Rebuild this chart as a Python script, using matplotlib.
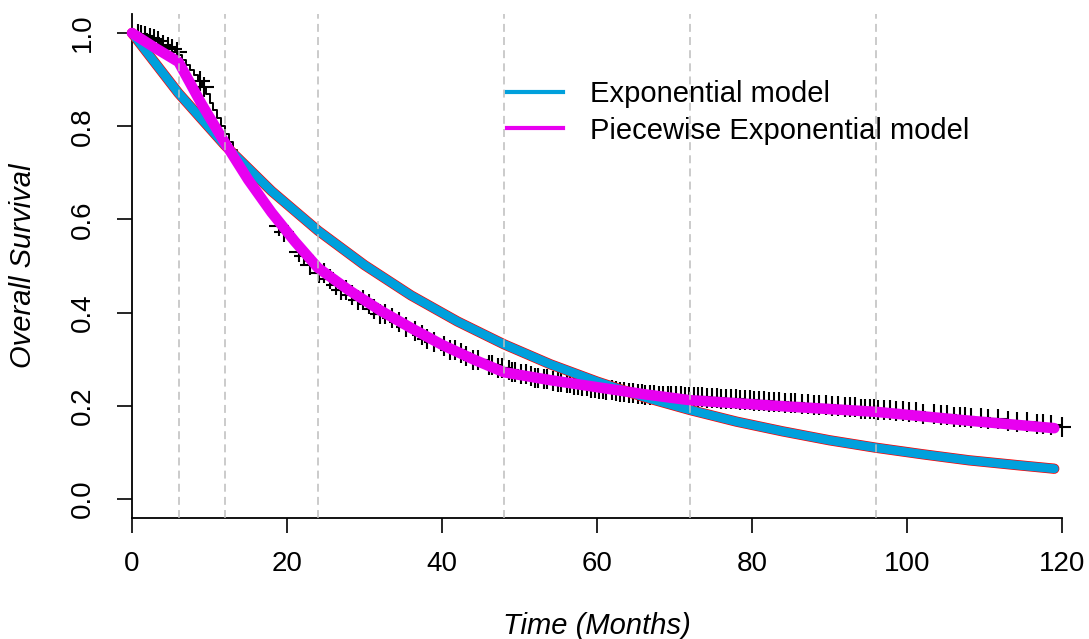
import numpy as np
import matplotlib
matplotlib.use("Agg")
import matplotlib.pyplot as plt
from matplotlib.lines import Line2D

plt.rcParams['font.family'] = ['Liberation Sans', 'DejaVu Sans']

# ---------------------------------------------------------------- data
# Kaplan-Meier step curve
km_time = [0, 0.5, 1, 1.5, 2, 2.5, 3, 3.5, 4, 4.5, 5, 5.5, 6, 6.5, 7, 7.5, 8, 8.5, 9, 9.5,
           10, 10.5, 11, 11.5, 12, 12.5, 13, 13.5, 14, 14.5, 15, 15.5, 16, 16.5, 17, 17.5,
           18, 18.5, 19, 19.5, 20, 20.5, 21, 21.5, 22, 22.5, 23, 23.5, 24,
           25, 26, 27, 28, 29, 30, 31, 32, 33, 34, 35, 36, 37, 38, 39, 40, 41, 42, 43, 44,
           45, 46, 47, 48, 49, 50, 51, 52, 53, 54, 55, 56, 57, 58, 59, 60, 61, 62, 63, 64,
           65, 66, 67, 68, 69, 70, 71, 72, 74, 76, 78, 80, 82, 84, 86, 88, 90, 92, 94, 96,
           98, 100, 102, 104, 106, 108, 110, 112, 114, 116, 118, 119, 120]
km_surv = [1.000, 0.998, 0.996, 0.993, 0.990, 0.987, 0.983, 0.979, 0.975, 0.970, 0.965,
           0.960, 0.952, 0.942, 0.932, 0.921, 0.910, 0.898, 0.884, 0.870, 0.850, 0.834,
           0.817, 0.800, 0.783, 0.766, 0.750, 0.735, 0.720, 0.705, 0.690, 0.676, 0.662,
           0.648, 0.635, 0.622, 0.609, 0.597, 0.586, 0.574, 0.563, 0.552, 0.541, 0.531,
           0.521, 0.511, 0.502, 0.493, 0.485,
           0.472, 0.460, 0.449, 0.438, 0.428, 0.418, 0.407, 0.397, 0.388, 0.379, 0.370,
           0.361, 0.352, 0.344, 0.336, 0.328, 0.320, 0.313, 0.306, 0.299, 0.293, 0.287,
           0.281, 0.276, 0.272, 0.268, 0.264, 0.260, 0.257, 0.254, 0.251, 0.248, 0.245,
           0.242, 0.239, 0.236, 0.233, 0.231, 0.229, 0.227, 0.225, 0.224, 0.223, 0.222,
           0.221, 0.220, 0.219, 0.218, 0.216, 0.214, 0.212, 0.210, 0.208, 0.206, 0.204,
           0.202, 0.199, 0.197, 0.194, 0.192, 0.189, 0.186, 0.183, 0.180, 0.177, 0.174,
           0.171, 0.168, 0.165, 0.161, 0.158, 0.155, 0.155]

# censoring times (+ marks)
cens_time = [0.8, 1.2, 1.7, 2.3, 2.9, 3.4, 4.0, 4.6, 5.2, 5.8, 8.8, 9.3,
             19.0, 19.6, 21.5, 22.2, 23.0, 24.1, 24.8, 25.5, 26.3, 27.0, 27.6, 28.4, 29.1,
             29.8, 30.6, 31.2, 32.0, 32.7, 33.5, 34.4, 35.3, 36.5, 37.4, 38.1, 39.0, 40.2,
             41.0, 41.7, 42.5, 43.1, 44.0, 44.6, 46.0, 46.5, 47.2, 47.8, 48.6, 49.0, 49.4,
             50.2, 50.9, 51.5, 52.0, 52.4, 53.1, 53.6, 54.3, 55.0, 55.4, 56.1, 56.5, 57.0,
             57.6, 58.1, 58.7, 59.2, 59.7, 60.3, 60.8, 61.2, 61.9, 62.4, 63.0, 63.5, 64.1,
             64.6, 65.3, 65.8, 66.2, 66.9, 67.4, 68.0, 68.5, 69.1, 69.6, 70.2, 70.8, 71.3,
             71.9, 72.5, 73.0, 73.6, 74.2, 74.8, 75.5, 76.0, 76.6, 77.3, 77.9, 78.4, 79.1,
             79.7, 80.3, 80.9, 81.6, 82.2, 82.9, 83.5, 84.3, 85.0, 85.6, 86.4, 87.2, 88.0,
             88.6, 89.5, 90.3, 91.1, 92.0, 92.6, 93.3, 94.0, 94.6, 95.2, 95.8, 96.3, 97.0,
             97.8, 98.6, 99.5, 100.3, 101.2, 102.0, 103.5, 104.4, 105.2, 106.0, 106.8,
             107.5, 108.3, 109.6, 110.5, 111.8, 113.0, 114.2, 115.5, 116.8, 117.6, 118.6,
             120.0]

# exponential model
exp_time = [0, 6, 12, 18, 24, 30, 36, 42, 48, 54, 60, 66, 72, 78, 84, 90, 96, 102, 108, 114, 119]
exp_surv = [1.000, 0.871, 0.759, 0.661, 0.576, 0.502, 0.437, 0.381, 0.332, 0.289, 0.252,
            0.219, 0.191, 0.166, 0.145, 0.126, 0.110, 0.096, 0.083, 0.073, 0.065]

# piecewise exponential model
pw_time = [0, 3, 6, 9, 12, 15, 18, 21, 24, 28, 32, 36, 40, 44, 48, 54, 60, 66, 72, 84, 96, 108, 119]
pw_surv = [1.000, 0.968, 0.938, 0.847, 0.764, 0.685, 0.615, 0.553, 0.496, 0.448, 0.405,
           0.367, 0.331, 0.300, 0.272, 0.255, 0.240, 0.225, 0.212, 0.199, 0.187, 0.168, 0.152]

cut_points = [6, 12, 24, 48, 72, 96]
x_ticks = [0, 20, 40, 60, 80, 100, 120]
y_ticks = [0.0, 0.2, 0.4, 0.6, 0.8, 1.0]
series_labels = ["Exponential model", "Piecewise Exponential model"]

BLUE = "#00a0dc"
MAGENTA = "#e800f0"

# ---------------------------------------------------------------- figure
fig = plt.figure(figsize=(10.89, 6.39), dpi=100)
ax = fig.add_axes([0.1141, 0.18936, 0.86823, 0.7881])
ax.set_xlim(-1, 121)
ax.set_ylim(-0.0408, 1.04)

# KM curve + censor marks
ax.step(km_time, km_surv, where="post", color="black", lw=1.4, zorder=2)
kt = np.asarray(km_time); ks = np.asarray(km_surv)
idx = np.searchsorted(kt, cens_time, side="right") - 1
ax.plot(cens_time, ks[idx], ls="none", marker="+", ms=14, mew=1.5, color="black", zorder=2)

# exponential model: blue with a thin red rim
ax.plot(exp_time, exp_surv, color="red", lw=7.4, solid_capstyle="round", zorder=3)
ax.plot(exp_time, exp_surv, color=BLUE, lw=6.4, solid_capstyle="round", zorder=3)
# piecewise exponential model
ax.plot(pw_time, pw_surv, color=MAGENTA, lw=7.6, solid_capstyle="round",
        solid_joinstyle="round", zorder=4)

# cut points
ax.vlines(cut_points, -0.0408, 1.04, colors="#bdbdbd", lw=1.1,
          linestyles=[(0, (5.2, 3.4))], zorder=5)

# axes in base-R style
for s in ("top", "right"):
    ax.spines[s].set_visible(False)
ax.spines["left"].set_position(("data", 0))
ax.spines["left"].set_linewidth(1.3)
ax.spines["bottom"].set_bounds(0, 120)
ax.spines["bottom"].set_linewidth(1.3)
ax.set_xticks(x_ticks)
ax.set_xticklabels([str(v) for v in x_ticks])
ax.set_yticks(y_ticks)
ax.set_yticklabels(["%.1f" % v for v in y_ticks])
ax.tick_params(axis="both", direction="out", length=10.8, width=1.2, labelsize=20)
ax.tick_params(axis="x", pad=13)
ax.tick_params(axis="y", pad=15)
plt.setp(ax.get_yticklabels(), rotation=90, va="center")

ax.set_xlabel("Time (Months)", fontsize=21, style="italic")
ax.set_ylabel("Overall Survival", fontsize=21, style="italic")
ax.xaxis.set_label_coords(0.5, -0.186)
ax.yaxis.set_label_coords(-0.092, 0.5)

handles = [Line2D([], [], color=BLUE, lw=3.0), Line2D([], [], color=MAGENTA, lw=3.0)]
ax.legend(handles, series_labels, frameon=False, fontsize=21, loc="upper left",
          bbox_to_anchor=(0.392, 0.893), handlelength=1.95, handletextpad=0.9,
          labelspacing=0.3, borderaxespad=0)

fig.savefig("out.png", dpi=100)
